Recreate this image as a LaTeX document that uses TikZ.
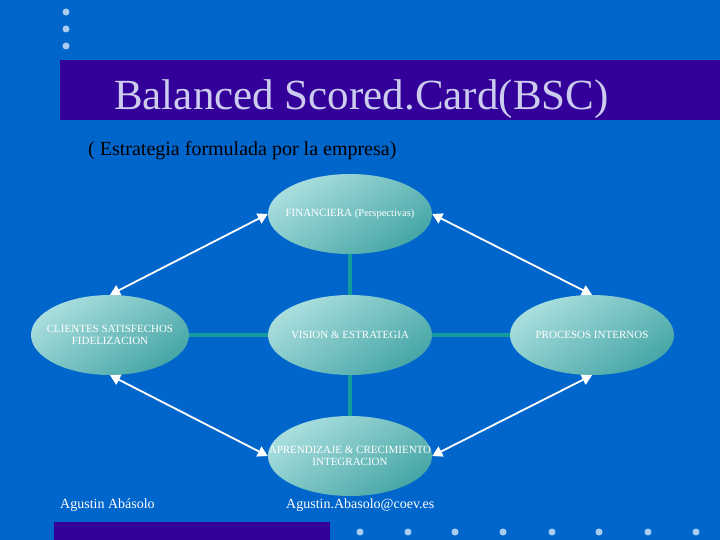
\documentclass[tikz,border=0pt]{standalone}
\usepackage{fontspec}
\setmainfont{Liberation Serif}
\usetikzlibrary{shapes.geometric,arrows.meta}
\definecolor{bgblue}{RGB}{0,102,204}
\definecolor{barpurple}{RGB}{51,0,153}
\definecolor{titlecol}{RGB}{204,204,238}
\definecolor{dotcol}{RGB}{170,204,238}
\definecolor{ellight}{RGB}{170,222,222}
\definecolor{eldark}{RGB}{70,166,166}
\definecolor{tealline}{RGB}{20,155,155}
\tikzset{
  persp/.style={ellipse, minimum width=164pt, minimum height=80pt, inner sep=0pt,
    top color=ellight, middle color=ellight, bottom color=eldark, shading angle=35},
  ptext/.style={text=white, align=center, inner sep=0pt, font=\fontsize{11}{12.5}\selectfont},
  tealconn/.style={draw=tealline, line width=4pt},
  whitearrow/.style={draw=white, line width=1.8pt, {Triangle[width=11pt,length=10pt]}-{Triangle[width=11pt,length=10pt]}, fill=white},
  dotmark/.style={circle, fill=dotcol, inner sep=0pt, minimum size=7pt},
}
\begin{document}
\begin{tikzpicture}[x=1pt,y=-1pt]
\useasboundingbox (0,0) rectangle (720,540);
\fill[bgblue] (0,0) rectangle (720,540);
% top-left dots
\node[dotmark] (d1) at (66,12) {};
\node[dotmark] (d2) at (66,29) {};
\node[dotmark] (d3) at (66,46) {};
% title bar
\fill[barpurple] (60,60) rectangle (720,120);
\node[anchor=base west, text=titlecol, font=\fontsize{43}{46}\selectfont, inner sep=0pt] (title) at (114,110) {Balanced Scored.Card(BSC)};
\node[anchor=base west, text=black, font=\fontsize{20}{22}\selectfont, inner sep=0pt] (sub) at (88,156) {( Estrategia formulada por la empresa)};
% connectors (teal)
\coordinate (cF) at (350,214);
\coordinate (cC) at (110,335);
\coordinate (cV) at (350,335);
\coordinate (cP) at (592,335);
\coordinate (cA) at (350,456);
\draw[tealconn] (cF) -- (cA);
\draw[tealconn] (cC) -- (cP);
% ellipses
\node[persp] (fin) at (cF) {};
\node[persp, minimum width=158pt] (cli) at (cC) {};
\node[persp] (vis) at (cV) {};
\node[persp] (pro) at (cP) {};
\node[persp] (apr) at (cA) {};
\node[ptext] (tfin) at (fin.center) {FINANCIERA {\fontsize{10.5}{11}\selectfont(Perspectivas)}};
\node[ptext] (tcli) at (cli.center) {CLIENTES SATISFECHOS\\FIDELIZACION};
\node[ptext] (tvis) at (vis.center) {VISION \& ESTRATEGIA};
\node[ptext] (tpro) at (pro.center) {PROCESOS INTERNOS};
\node[ptext] (tapr) at (apr.center) {APRENDIZAJE \& CRECIMIENTO\\INTEGRACION};
% white double arrows
\draw[whitearrow] (fin.west) -- (cli.north);
\draw[whitearrow] (fin.east) -- (pro.north);
\draw[whitearrow] (cli.south) -- (apr.west);
\draw[whitearrow] (pro.south) -- (apr.east);
% footer
\node[anchor=base west, text=white, font=\fontsize{14}{16}\selectfont, inner sep=0pt] (author) at (60,508) {Agustin Abásolo};
\node[anchor=base west, text=white, font=\fontsize{14}{16}\selectfont, inner sep=0pt] (email) at (286,508) {Agustin.Abasolo@coev.es};
\fill[barpurple] (54,522) rectangle (330,540);
\foreach \x [count=\i] in {360,408,455,503,552,599,648,696} {
  \node[dotmark] (b\i) at (\x,532) {};
}
\end{tikzpicture}
\end{document}
